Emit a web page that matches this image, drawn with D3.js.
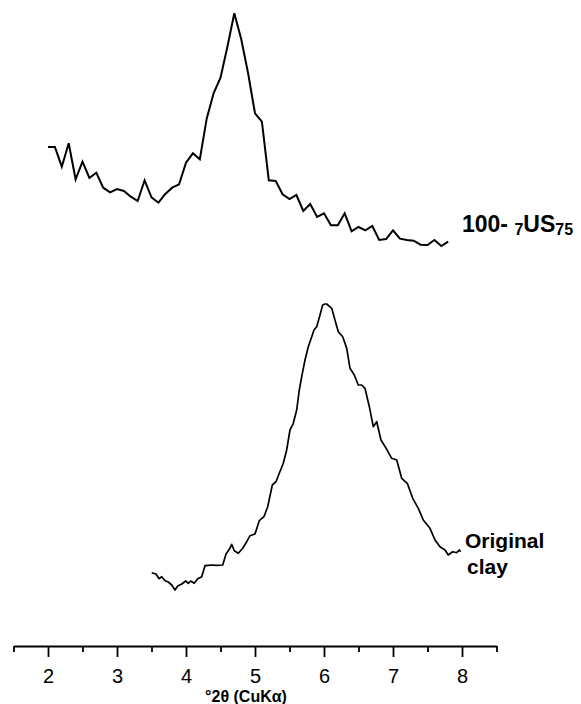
<!DOCTYPE html>
<html>
<head>
<meta charset="utf-8">
<script src="https://cdn.jsdelivr.net/npm/d3@7/dist/d3.min.js"></script>
<style>
  html, body { margin: 0; padding: 0; background: #fff; }
  svg { display: block; }
  text { font-family: "Liberation Sans", Arial, Helvetica, sans-serif; fill: #000; }
</style>
</head>
<body>
<svg id="chart" width="581" height="704"></svg>
<script>
// ---- Data ----
// Top pattern 100-7US75: 2θ from 2.0 to 7.8 in steps of 0.1 (intensity, arbitrary offset units)
const topTheta = [2.0,2.1,2.2,2.3,2.4,2.5,2.6,2.7,2.8,2.9,3.0,3.1,3.2,3.3,3.4,3.5,3.6,3.7,3.8,3.9,
                  4.0,4.1,4.2,4.3,4.4,4.5,4.6,4.7,4.8,4.9,5.0,5.1,5.2,5.3,5.4,5.5,5.6,5.7,5.8,5.9,
                  6.0,6.1,6.2,6.3,6.4,6.5,6.6,6.7,6.8,6.9,7.0,7.1,7.2,7.3,7.4,7.5,7.6,7.7,7.8];
const topIntensity = [503,503,483.3,506.7,470.7,488.3,472,477.3,462.3,457.7,461,459,453.3,449,469.7,452.7,447.3,456,462.3,465.7,
                      487.3,496.7,490.7,531.3,556.7,572.3,603.3,636.7,611,576.7,536.7,528.3,469.7,469,455.7,451,455,439,446,433,
                      436.7,424.7,424.7,436.7,418.7,423,419.7,424,410,411,419.7,411.3,410,409.3,405.3,405,410,404,408.3];

// Bottom pattern: original clay
const clayTheta = [3.503,3.565,3.609,3.648,3.696,3.743,3.793,3.841,3.880,3.938,3.996,4.033,4.068,4.120,4.170,4.228,
                   4.275,4.323,4.372,4.445,4.532,4.580,4.628,4.662,4.700,4.758,4.822,4.880,4.928,5.000,5.062,5.130,
                   5.184,5.251,5.304,5.352,5.410,5.459,5.507,5.555,5.604,5.642,5.686,5.725,5.772,5.822,5.855,5.894,
                   5.942,5.981,6.014,6.039,6.112,6.159,6.207,6.271,6.329,6.377,6.439,6.497,6.546,6.594,6.657,6.714,
                   6.764,6.826,6.909,6.981,7.054,7.126,7.207,7.286,7.367,7.439,7.536,7.609,7.681,7.754,7.801,7.865,
                   7.923,7.961,7.981];
const clayIntensity = [77.3,76,71.3,73.3,69.3,68,65,60,64,66,69,66.7,69,66.7,71.3,73.3,
                       84.3,84.7,85,84.7,85,96,100.7,105.7,99.3,96.7,101.7,108.3,114.3,116,129.3,133.3,
                       143.3,165,168.3,176.7,186.7,200,220,226.7,240,260,276.7,290,303.3,313.3,320,323.3,
                       335,345,346,346,341.7,330,318.3,313.3,301.7,281.7,275,265,265,261.7,243.3,223.3,
                       228.3,210,200.7,191.7,190,171.7,166.7,151.7,141.7,130,121.7,110,103.3,100,95,98.3,
                       97.3,100,98.3];

const majorTicks = [2,3,4,5,6,7,8];
const minorTicks = [1.5,2.5,3.5,4.5,5.5,6.5,7.5,8.5];
const axisTitle = "°2θ (CuKα)";

// ---- Drawing ----
const svg = d3.select("#chart");
const x = d3.scaleLinear().domain([1.5, 8.5]).range([13.5, 496.5]);
const y = d3.scaleLinear().domain([0, 650]).range([650, 0]);

const line = d3.line().x(d => x(d[0])).y(d => y(d[1]));

svg.append("path")
  .datum(topTheta.map((t, i) => [t, topIntensity[i]]))
  .attr("d", line)
  .attr("fill", "none").attr("stroke", "#000").attr("stroke-width", 2)
  .attr("stroke-linejoin", "miter");

svg.append("path")
  .datum(clayTheta.map((t, i) => [t, clayIntensity[i]]))
  .attr("d", line)
  .attr("fill", "none").attr("stroke", "#000").attr("stroke-width", 1.7)
  .attr("stroke-linejoin", "round");

// Axis
const axisY = 646;
const gMinor = svg.append("g").attr("transform", `translate(0,${axisY})`)
  .call(d3.axisBottom(x).tickValues(minorTicks).tickSize(6).tickSizeOuter(0).tickFormat(""));
gMinor.select(".domain").attr("stroke", "#000").attr("stroke-width", 2);
gMinor.selectAll(".tick line").attr("stroke", "#000").attr("stroke-width", 1.8);

const gMajor = svg.append("g").attr("transform", `translate(0,${axisY})`)
  .call(d3.axisBottom(x).tickValues(majorTicks).tickSize(11).tickSizeOuter(0).tickPadding(12).tickFormat(d3.format("d")));
gMajor.select(".domain").remove();
gMajor.selectAll(".tick line").attr("stroke", "#000").attr("stroke-width", 1.8);
gMajor.selectAll(".tick text")
  .attr("font-size", 20).attr("fill", "#000")
  .style("font-family", "'Liberation Sans', Arial, sans-serif");

svg.append("text")
  .attr("x", 246).attr("y", 702)
  .attr("text-anchor", "middle")
  .attr("font-size", 16).attr("font-weight", "bold")
  .text(axisTitle);

// Series labels
const lab1 = svg.append("text").attr("x", 462).attr("y", 232)
  .attr("font-size", 23).attr("font-weight", "bold");
lab1.append("tspan").text("100- ");
lab1.append("tspan").attr("font-size", 16).attr("dy", 3).text("7");
lab1.append("tspan").attr("dy", -3).text("US");
lab1.append("tspan").attr("font-size", 16).attr("dy", 3).text("75");

svg.append("text").attr("x", 465).attr("y", 548)
  .attr("font-size", 21).attr("font-weight", "bold").text("Original");
svg.append("text").attr("x", 467).attr("y", 574)
  .attr("font-size", 21).attr("font-weight", "bold").text("clay");
</script>
</body>
</html>
